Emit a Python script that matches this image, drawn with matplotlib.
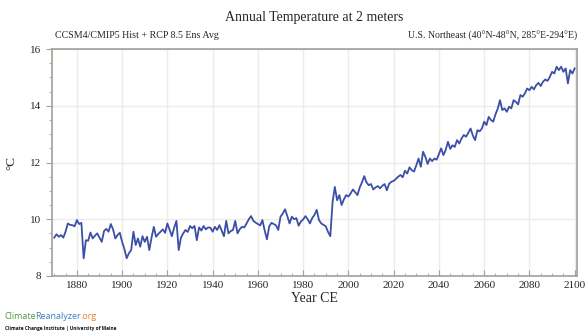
import matplotlib
matplotlib.use("Agg")
import matplotlib.pyplot as plt
from matplotlib.ticker import MultipleLocator

# Annual mean 2 m temperature, U.S. Northeast, CCSM4 ensemble mean (hist + RCP8.5)
years = list(range(1870, 2101))
temp = [
    # 1870-1879
    9.35, 9.47, 9.38, 9.44, 9.35, 9.56, 9.85, 9.80, 9.79, 9.75,
    # 1880-1889
    9.97, 9.83, 9.87, 8.62, 9.26, 9.24, 9.53, 9.32, 9.42, 9.50,
    # 1890-1899
    9.35, 9.20, 9.58, 9.66, 9.56, 9.83, 9.64, 9.32, 9.44, 9.52,
    # 1900-1909
    9.20, 8.95, 8.62, 8.80, 8.91, 9.56, 9.09, 9.32, 9.03, 9.40,
    # 1910-1919
    9.20, 9.38, 8.91, 9.35, 9.73, 9.38, 9.48, 9.56, 9.64, 9.52,
    # 1920-1929
    9.85, 9.62, 9.40, 9.70, 9.94, 8.91, 9.35, 9.50, 9.62, 9.55,
    # 1930-1939
    9.76, 9.68, 9.76, 9.26, 9.71, 9.60, 9.76, 9.64, 9.71, 9.70,
    # 1940-1949
    9.56, 9.73, 9.62, 9.79, 9.60, 9.40, 9.94, 9.50, 9.58, 9.62,
    # 1950-1959
    9.94, 9.50, 9.65, 9.73, 9.71, 9.85, 10.00, 10.11, 9.94, 9.88,
    # 1960-1969
    9.83, 9.78, 9.97, 9.60, 9.29, 9.75, 9.87, 9.83, 9.78, 9.62,
    # 1970-1979
    10.09, 10.20, 10.35, 10.11, 9.85, 10.09, 10.00, 10.04, 9.77, 9.92,
    # 1980-1989
    9.99, 10.11, 10.00, 9.85, 10.04, 10.15, 10.33, 9.97, 9.85, 9.80,
    # 1990-1999
    9.75, 9.55, 9.40, 10.60, 11.14, 10.67, 10.85, 10.50, 10.70, 10.85,
    # 2000-2009
    10.80, 10.91, 11.05, 10.95, 10.85, 11.12, 11.30, 11.52, 11.30, 11.20,
    # 2010-2019
    11.24, 11.05, 11.12, 11.17, 11.09, 11.18, 11.24, 11.02, 11.25, 11.32,
    # 2020-2029
    11.35, 11.42, 11.50, 11.56, 11.48, 11.71, 11.61, 11.83, 11.73, 11.68,
    # 2030-2039
    11.90, 12.14, 11.85, 12.38, 12.20, 11.95, 12.14, 12.05, 12.14, 12.10,
    # 2040-2049
    12.30, 12.50, 12.26, 12.45, 12.73, 12.48, 12.61, 12.55, 12.79, 12.67,
    # 2050-2059
    12.85, 12.97, 12.91, 13.05, 13.20, 12.95, 12.79, 13.14, 13.10, 13.20,
    # 2060-2069
    13.44, 13.32, 13.61, 13.50, 13.44, 13.70, 13.90, 14.20, 13.85, 13.91,
    # 2070-2079
    13.79, 13.97, 13.91, 14.20, 14.14, 14.05, 14.38, 14.32, 14.44, 14.61,
    # 2080-2089
    14.55, 14.67, 14.58, 14.73, 14.81, 14.70, 14.85, 14.93, 14.88, 15.02,
    # 2090-2100
    15.20, 15.14, 15.38, 15.26, 15.38, 15.20, 15.32, 14.79, 15.26, 15.14, 15.32,
]

x_ticks = list(range(1880, 2101, 20))
y_ticks = [8, 10, 12, 14, 16]

SERIF = ["Liberation Serif", "DejaVu Serif"]
SANS = ["Open Sans", "DejaVu Sans"]
TXT = "#262626"
SPINE = "#a69e98"
LINE = "#3b4fa6"

plt.rcParams["font.family"] = SERIF

fig = plt.figure(figsize=(5.88, 3.32), dpi=100)
ax = fig.add_axes([0.0884, 0.169, 0.8928, 0.683])

ax.plot(years, temp, color=LINE, linewidth=1.3, zorder=3)

ax.set_xlim(1869, 2101)
ax.set_ylim(8, 16)
ax.set_xticks(x_ticks)
ax.set_yticks(y_ticks)
ax.xaxis.set_minor_locator(MultipleLocator(5))
ax.yaxis.set_minor_locator(MultipleLocator(0.5))

ax.grid(True, which="major", color="#efebe8", linewidth=1.0, zorder=0)
for s in ax.spines.values():
    s.set_color(SPINE)
    s.set_linewidth(1.2)

ax.tick_params(axis="both", which="major", direction="in", length=4,
               color=SPINE, labelsize=8, labelcolor=TXT, pad=4)
ax.tick_params(axis="both", which="minor", direction="in", length=2,
               color=SPINE)
ax.tick_params(axis="y", direction="out", which="both")

ax.set_xlabel("Year CE", fontsize=10, color=TXT, labelpad=1)
ax.set_ylabel("°C", fontsize=9.5, color=TXT, labelpad=9)

fig.text(0.535, 0.947, "Annual Temperature at 2 meters", ha="center",
         va="center", fontsize=10, color=TXT)
fig.text(0.0935, 0.893, "CCSM4/CMIP5 Hist + RCP 8.5 Ens Avg", ha="left",
         va="center", fontsize=7.2, color=TXT)
fig.text(0.981, 0.893, "U.S. Northeast (40°N-48°N, 285°E-294°E)", ha="right",
         va="center", fontsize=7, color=TXT)

# site logo, built from three coloured pieces set edge to edge
renderer = fig.canvas.get_renderer()
x0 = 0.008
for part, col in [("Climate", "#4e9a3c"), ("Reanalyzer", "#3d7fc4"), (".org", "#e8822a")]:
    t = fig.text(x0, 0.047, part, ha="left", va="center", fontsize=6.5,
                 color=col, family=SANS)
    bb = t.get_window_extent(renderer=renderer)
    x0 += (bb.width - 1.0) / fig.bbox.width
fig.text(0.008, 0.011, "Climate Change Institute | University of Maine",
         ha="left", va="center", fontsize=3.4, color="#111111",
         family=SANS, fontweight="bold")

fig.savefig("out.png", dpi=100)
